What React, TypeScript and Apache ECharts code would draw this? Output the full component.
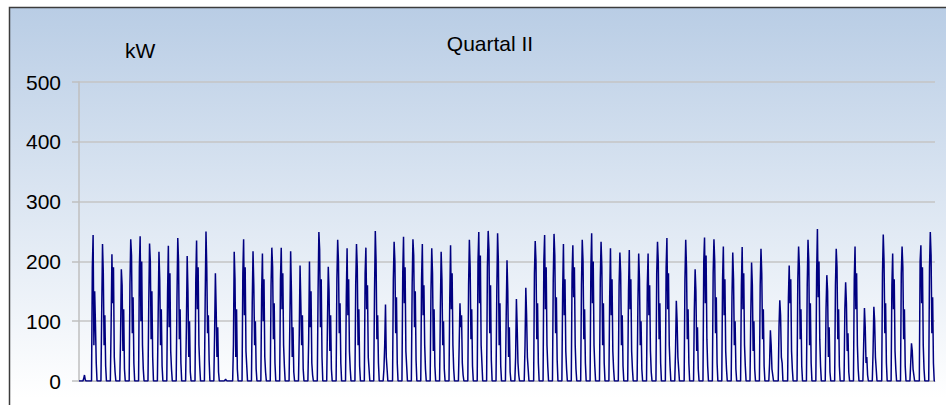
import React, { useEffect, useRef } from "react";
import * as echarts from "echarts";

// Quarter II (1 April – 30 June): 91 days
const dayCount = 91;
// Hours of day at which each daily reading row applies (night hours read as 0 kW)
const activeHours = [10, 12, 14, 16, 18, 20, 22];
const nightStartHour = 8;
// Readings in kW per day (rows) at the active hours above
const readingsKW: number[][] = [
  [0, 4, 10, 2, 0, 0, 0],
  [189, 244, 60, 150, 95, 30, 0],
  [120, 229, 180, 60, 110, 25, 0],
  [95, 212, 130, 190, 40, 15, 0],
  [70, 187, 160, 50, 120, 20, 0],
  [160, 237, 210, 80, 140, 30, 0],
  [190, 242, 100, 200, 60, 20, 0],
  [130, 230, 200, 70, 150, 40, 0],
  [110, 216, 170, 60, 120, 25, 0],
  [150, 226, 90, 180, 50, 20, 0],
  [140, 239, 200, 70, 120, 30, 0],
  [90, 209, 150, 40, 100, 15, 0],
  [170, 235, 120, 190, 60, 25, 0],
  [140, 250, 190, 80, 110, 35, 0],
  [80, 180, 120, 40, 90, 15, 0],
  [0, 1, 3, 1, 0, 0, 0],
  [60, 216, 170, 40, 120, 20, 0],
  [180, 237, 110, 190, 50, 25, 0],
  [130, 217, 160, 60, 100, 20, 0],
  [150, 213, 100, 170, 40, 15, 0],
  [160, 223, 190, 70, 130, 30, 0],
  [170, 223, 120, 180, 60, 25, 0],
  [100, 217, 150, 40, 90, 15, 0],
  [80, 193, 130, 60, 110, 20, 0],
  [70, 200, 90, 150, 30, 10, 0],
  [150, 249, 220, 90, 170, 40, 0],
  [100, 191, 150, 50, 110, 20, 0],
  [170, 236, 200, 80, 130, 30, 0],
  [140, 222, 110, 170, 50, 20, 0],
  [160, 229, 190, 60, 120, 25, 0],
  [180, 223, 120, 160, 40, 20, 0],
  [150, 251, 200, 70, 110, 30, 0],
  [20, 60, 128, 40, 20, 0, 0],
  [170, 233, 200, 80, 140, 30, 0],
  [180, 241, 130, 190, 50, 25, 0],
  [160, 237, 210, 90, 150, 35, 0],
  [170, 229, 110, 160, 60, 20, 0],
  [150, 222, 180, 50, 120, 25, 0],
  [120, 216, 170, 60, 100, 20, 0],
  [140, 227, 120, 180, 60, 20, 0],
  [60, 130, 90, 110, 30, 10, 0],
  [160, 236, 190, 70, 120, 25, 0],
  [200, 249, 130, 210, 60, 30, 0],
  [190, 251, 220, 80, 160, 35, 0],
  [150, 247, 200, 60, 130, 25, 0],
  [110, 202, 150, 40, 90, 15, 0],
  [40, 137, 90, 30, 10, 0, 0],
  [60, 156, 110, 40, 20, 0, 0],
  [180, 234, 200, 70, 130, 30, 0],
  [200, 244, 120, 190, 60, 25, 0],
  [170, 246, 210, 80, 140, 35, 0],
  [150, 229, 110, 170, 50, 20, 0],
  [180, 227, 140, 190, 60, 20, 0],
  [160, 236, 200, 70, 120, 30, 0],
  [190, 247, 130, 200, 60, 25, 0],
  [170, 233, 190, 60, 130, 30, 0],
  [140, 222, 110, 170, 50, 20, 0],
  [160, 215, 180, 60, 110, 25, 0],
  [150, 219, 120, 170, 50, 20, 0],
  [130, 213, 170, 60, 100, 20, 0],
  [160, 213, 110, 160, 50, 15, 0],
  [180, 233, 200, 70, 130, 30, 0],
  [190, 239, 120, 180, 60, 25, 0],
  [50, 134, 100, 40, 20, 0, 0],
  [170, 236, 190, 70, 120, 30, 0],
  [120, 187, 150, 50, 90, 20, 0],
  [200, 240, 130, 210, 70, 25, 0],
  [180, 237, 200, 80, 140, 30, 0],
  [170, 225, 110, 170, 50, 20, 0],
  [140, 215, 170, 60, 100, 20, 0],
  [160, 224, 120, 180, 60, 25, 0],
  [110, 198, 160, 50, 100, 20, 0],
  [160, 221, 180, 70, 120, 25, 0],
  [30, 85, 60, 20, 10, 0, 0],
  [90, 135, 110, 40, 30, 0, 0],
  [140, 193, 130, 170, 50, 20, 0],
  [170, 225, 190, 70, 120, 25, 0],
  [160, 236, 200, 60, 130, 30, 0],
  [180, 254, 140, 200, 70, 25, 0],
  [120, 177, 150, 40, 90, 15, 0],
  [160, 221, 190, 70, 120, 25, 0],
  [120, 165, 130, 50, 80, 15, 0],
  [170, 225, 120, 180, 60, 20, 0],
  [60, 122, 90, 30, 40, 10, 0],
  [50, 124, 100, 40, 20, 0, 0],
  [180, 245, 200, 80, 130, 30, 0],
  [160, 213, 120, 170, 50, 20, 0],
  [180, 225, 190, 70, 120, 25, 0],
  [30, 63, 50, 20, 10, 0, 0],
  [200, 227, 130, 190, 60, 20, 0],
  [190, 249, 210, 80, 140, 30, 0],
];
const yMin = 0;
const yMax = 500;
const yStep = 100;
const titleText = "Quartal II";
const unitText = "kW";

const FONT = "'Liberation Sans', Arial, 'DejaVu Sans', sans-serif";

export default function App() {
  const ref = useRef<HTMLDivElement>(null);

  useEffect(() => {
    if (!ref.current) return;
    const chart = echarts.init(ref.current, undefined, { renderer: "svg" });

    const points: [number, number][] = [[0, 0]];
    readingsKW.forEach((row, d) => {
      points.push([d * 24 + nightStartHour, 0]);
      row.forEach((v, i) => points.push([d * 24 + activeHours[i], v]));
    });
    points.push([dayCount * 24, 0]);

    chart.setOption({
      animation: false,
      backgroundColor: "#ffffff",
      graphic: [
        {
          type: "rect",
          z: -100,
          silent: true,
          shape: { x: 9.5, y: 7.5, width: 980, height: 420 },
          style: {
            fill: new echarts.graphic.LinearGradient(0, 0, 0, 1, [
              { offset: 0, color: "#b9cde5" },
              { offset: 0.93, color: "#ffffff" },
              { offset: 1, color: "#ffffff" },
            ]),
            stroke: "#3c3c3c",
            lineWidth: 1.5,
          },
        },
        {
          type: "text",
          silent: true,
          x: 490,
          y: 43,
          style: {
            text: titleText,
            fontFamily: FONT,
            fontSize: 21,
            fill: "#000000",
            textAlign: "center",
            textVerticalAlign: "middle",
          },
        },
        {
          type: "text",
          silent: true,
          x: 125,
          y: 50,
          style: {
            text: unitText,
            fontFamily: FONT,
            fontSize: 21,
            fill: "#000000",
            textAlign: "left",
            textVerticalAlign: "middle",
          },
        },
      ],
      grid: { left: 79, right: 11, top: 82, bottom: 24, containLabel: false },
      xAxis: {
        type: "value",
        min: 0,
        max: dayCount * 24,
        axisLine: { show: true, lineStyle: { color: "#bfbfbf", width: 1 } },
        axisTick: { show: false },
        axisLabel: { show: false },
        splitLine: { show: false },
      },
      yAxis: {
        type: "value",
        min: yMin,
        max: yMax,
        interval: yStep,
        axisLine: { show: true, lineStyle: { color: "#bfbfbf", width: 1.5 } },
        axisTick: { show: true, length: 7, lineStyle: { color: "#bfbfbf", width: 1.5 } },
        axisLabel: {
          margin: 18,
          fontFamily: FONT,
          fontSize: 21,
          color: "#000000",
        },
        splitLine: { show: true, lineStyle: { color: "#c4c4c4", width: 1.5 } },
      },
      series: [
        {
          type: "line",
          data: points,
          showSymbol: false,
          silent: true,
          lineStyle: { color: "#000080", width: 1.5 },
          z: 5,
        },
      ],
    });

    return () => chart.dispose();
  }, []);

  return (
    <div
      ref={ref}
      style={{ position: "fixed", left: 0, top: 0, width: 946, height: 405 }}
    />
  );
}
